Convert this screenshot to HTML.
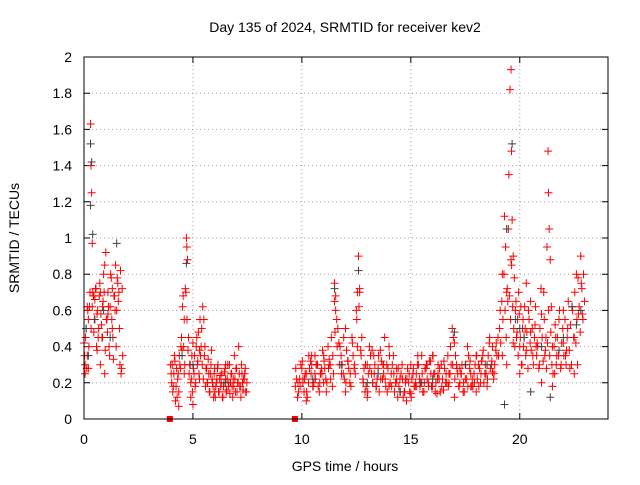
<!DOCTYPE html>
<html><head><meta charset="utf-8"><style>
body{margin:0;background:#fff;}
svg text{font-family:"Liberation Sans",sans-serif;font-size:14px;fill:#000;}
</style></head><body>
<svg id="chart" width="640" height="480" viewBox="0 0 640 480" xmlns="http://www.w3.org/2000/svg">
<rect width="640" height="480" fill="#fff"/>
<text x="345" y="32" text-anchor="middle">Day 135 of 2024, SRMTID for receiver kev2</text>
<text transform="translate(19,238) rotate(-90)" text-anchor="middle">SRMTID / TECUs</text>
<text x="345" y="471" text-anchor="middle">GPS time / hours</text>
<g id="grid"></g>
<g id="ticks"></g>
<g id="red"></g>
<g id="black"></g>
<rect x="84" y="57" width="524" height="362" fill="none" stroke="#000" stroke-width="1"/>
</svg>
<script>
const xTicks=[0,5,10,15,20];
const yTicks=[0,0.2,0.4,0.6,0.8,1,1.2,1.4,1.6,1.8,2];
const yTickLabels=["0","0.2","0.4","0.6","0.8","1","1.2","1.4","1.6","1.8","2"];
const redT=[0,.05,.1,.15,.2,.25,.3,.32,.35,.38,.4,.45,.5,.55,.6,.65,.7,.75,.8,.85,.9,.95,1,1.05,1.1,1.15,1.2,1.25,1.3,1.35,1.4,1.45,1.5,1.55,1.6,1.65,1.7,1.75,.05,.15,.45,.6,.75,.85,1.1,1.3,.2,.95,
4,4.05,4.1,4.15,4.2,4.25,4.3,4.35,4.4,4.45,4.5,4.55,4.6,4.65,4.7,4.72,4.75,4.8,4.85,4.9,4.95,5,5.05,5.1,5.15,5.2,5.25,5.3,5.35,5.4,5.45,5.5,5.55,5.6,5.65,5.7,5.75,5.8,5.85,5.9,5.95,6,6.05,6.1,6.15,6.2,6.25,6.3,6.35,6.4,6.45,6.5,6.55,6.6,6.65,6.7,6.75,6.8,6.85,6.9,6.95,7,7.05,7.1,7.15,7.2,7.25,7.3,7.35,7.4,7.45,4.6,4.9,5.3,6,6.5,5,4.35,
9.7,9.8,9.9,10,10.1,10.2,10.3,10.4,10.5,10.6,10.7,10.8,10.9,11,11.1,11.2,11.3,11.4,11.5,11.55,11.6,11.7,11.8,11.9,12,12.1,12.2,12.3,12.4,12.5,12.6,12.65,12.7,12.8,12.9,13,13.1,13.2,13.3,13.4,13.5,13.6,13.7,13.8,13.9,14,14.1,14.2,14.3,14.4,14.5,14.6,14.7,14.8,14.9,15,15.1,15.2,15.3,15.4,15.5,15.6,15.7,15.8,15.9,16,16.1,16.2,16.3,16.4,16.5,16.6,16.7,16.8,16.9,17,17.1,17.2,17.3,17.4,17.5,17.6,17.7,17.8,17.9,18,18.1,18.2,18.3,18.4,18.5,18.6,18.7,18.8,18.9,10.2,10.6,11,12,13,14,15,16,17,18,11.5,12.55,10.05,10.45,10.85,11.25,13.25,13.75,14.35,14.75,15.25,15.75,16.25,16.75,17.25,17.75,18.25,18.75,
19,19.1,19.2,19.3,19.35,19.4,19.45,19.5,19.55,19.6,19.62,19.65,19.7,19.75,19.8,19.85,19.9,19.95,20,20.05,20.1,20.15,20.2,20.3,20.4,20.5,20.6,20.7,20.8,20.9,21,21.1,21.2,21.25,21.3,21.32,21.35,21.4,21.45,21.5,21.6,21.7,21.8,21.9,22,22.1,22.2,22.3,22.4,22.5,22.6,22.7,22.8,22.85,22.9,19.2,19.4,19.7,20,20.5,21,21.5,22,22.5,19.6,20.3,20.25,20.75,21.15,21.65,22.15,22.65];
const redV=[.42,.3,.5,.35,.55,.62,1.63,1.4,1.25,.97,.7,.48,.66,.72,.58,.45,.68,.3,.52,.62,.8,.85,.92,.55,.7,.4,.62,.78,.5,.33,.68,.85,.6,.75,.7,.3,.25,.72,.25,.62,.68,.38,.7,.45,.58,.72,.28,.25,
.25,.3,.18,.35,.1,.28,.22,.15,.3,.4,.38,.68,.55,.72,1,.95,.88,.45,.3,.2,.35,.42,.25,.18,.4,.3,.48,.22,.35,.5,.62,.55,.4,.28,.2,.33,.15,.25,.38,.2,.12,.28,.18,.22,.3,.15,.24,.2,.12,.18,.26,.22,.16,.3,.2,.14,.25,.18,.22,.35,.15,.28,.2,.4,.18,.12,.25,.16,.22,.28,.15,.25,.12,.38,.15,.3,.08,.07,
.18,.12,.22,.28,.15,.25,.2,.32,.18,.25,.3,.15,.28,.35,.22,.4,.3,.18,.75,.68,.55,.42,.35,.25,.5,.32,.2,.45,.28,.6,.9,.72,.38,.22,.15,.3,.4,.25,.35,.18,.28,.38,.22,.45,.3,.18,.25,.35,.2,.12,.22,.3,.15,.1,.2,.14,.25,.18,.3,.22,.35,.15,.28,.2,.32,.18,.25,.14,.22,.3,.16,.2,.35,.25,.5,.42,.3,.18,.25,.15,.22,.4,.28,.18,.25,.15,.3,.2,.35,.25,.18,.42,.3,.22,.38,.1,.35,.2,.15,.12,.4,.3,.35,.12,.35,.65,.7,.22,.3,.25,.3,.2,.3,.28,.22,.18,.3,.25,.2,.28,.18,.32,.26,
.45,.6,.8,1.12,.95,.7,.65,1.35,1.82,1.93,1.48,1.1,.9,.78,.6,.45,.55,.7,.4,.62,.3,.55,.45,.38,.6,.48,.35,.52,.42,.3,.58,.7,.45,.95,1.48,1.25,1.05,.88,.62,.4,.25,.35,.55,.3,.42,.35,.5,.28,.62,.45,.8,.58,.9,.72,.55,.35,.3,.42,.25,.65,.2,.18,.6,.25,.88,.75,.5,.4,.35,.45,.38,.3];
const seg1T=[.025,.075,.125,.175,.225,.275,.325,.375,.425,.475,.525,.575,.625,.675,.725,.775,.825,.875,.925,.975,1.025,1.075,1.125,1.175,1.225,1.275,1.325,1.375,1.425,1.475,1.525,1.575,1.625,1.675,1.725,1.775];
const seg1V=[.35,.45,.28,.60,.40,.70,.50,.62,.68,.55,.72,.40,.60,.50,.75,.58,.45,.65,.70,.38,.55,.48,.62,.35,.80,.55,.45,.68,.60,.40,.78,.65,.50,.82,.28,.35];
const seg2T=[3.975,4.025,4.075,4.125,4.175,4.225,4.275,4.325,4.375,4.425,
4.475,4.525,4.575,4.625,4.675,4.725,4.775,4.825,4.875,4.925,
4.975,5.025,5.075,5.125,5.175,5.225,5.275,5.325,5.375,5.425,
5.475,5.525,5.575,5.625,5.675,5.725,5.775,5.825,5.875,5.925,
5.975,6.025,6.075,6.125,6.175,6.225,6.275,6.325,6.375,6.425,
6.475,6.525,6.575,6.625,6.675,6.725,6.775,6.825,6.875,6.925,
6.975,7.025,7.075,7.125,7.175,7.225,7.275,7.325,7.375,7.425,7.475];
const seg2V=[.30,.20,.15,.25,.32,.18,.12,.25,.35,.28,
.45,.62,.40,.30,.70,.55,.38,.25,.30,.22,
.15,.28,.35,.20,.45,.32,.25,.55,.40,.30,
.22,.35,.18,.28,.20,.25,.15,.30,.22,.18,
.25,.12,.20,.28,.15,.22,.18,.25,.12,.20,
.28,.15,.22,.18,.30,.20,.25,.12,.18,.22,
.28,.15,.20,.25,.18,.30,.20,.22,.25,.15,.20];
const seg3T=[9.75,9.85,9.95,10.05,10.15,10.25,10.35,10.45,10.55,10.65,
10.75,10.85,10.95,11.05,11.15,11.25,11.35,11.45,11.55,11.65,
11.75,11.85,11.95,12.05,12.15,12.25,12.35,12.45,12.55,12.65,
12.75,12.85,12.95,13.05,13.15,13.25,13.35,13.45,13.55,13.65,
13.75,13.85,13.95,14.05,14.15,14.25,14.35,14.45,14.55,14.65,
14.75,14.85,14.95,15.05,15.15,15.25,15.35,15.45,15.55,15.65,
15.75,15.85,15.95,16.05,16.15,16.25,16.35,16.45,16.55,16.65,
16.75,16.85,16.95,17.05,17.15,17.25,17.35,17.45,17.55,17.65,
17.75,17.85,17.95,18.05,18.15,18.25,18.35,18.45,18.55,18.65,
18.75,18.85,18.95];
const seg3V=[.22,.15,.30,.20,.25,.12,.28,.35,.20,.30,
.18,.25,.38,.28,.20,.33,.45,.25,.60,.50,
.40,.30,.22,.38,.28,.18,.35,.25,.40,.70,
.45,.28,.18,.25,.35,.20,.30,.22,.15,.32,
.25,.18,.28,.20,.30,.15,.22,.18,.25,.12,
.20,.28,.15,.22,.18,.25,.30,.20,.15,.28,
.22,.32,.18,.25,.20,.30,.15,.22,.28,.20,
.25,.30,.45,.35,.25,.20,.30,.15,.22,.35,
.25,.18,.30,.22,.28,.32,.20,.25,.35,.28,
.40,.30,.35];
const seg3bT=[9.72,9.82,9.92,10.02,10.12,10.22,10.32,10.42,10.52,10.62,
10.72,10.82,10.92,11.02,11.12,11.22,11.32,11.42,11.52,11.62,
11.72,11.82,11.92,12.02,12.12,12.22,12.32,12.42,12.52,12.62,
12.72,12.82,12.92,13.02,13.12,13.22,13.32,13.42,13.52,13.62,
13.72,13.82,13.92,14.02,14.12,14.22,14.32,14.42,14.52,14.62,
14.72,14.82,14.92,15.02,15.12,15.22,15.32,15.42,15.52,15.62,
15.72,15.82,15.92,16.02,16.12,16.22,16.32,16.42,16.52,16.62,
16.72,16.82,16.92,17.02,17.12,17.22,17.32,17.42,17.52,17.62,
17.72,17.82,17.92,18.02,18.12,18.22,18.32,18.42,18.52,18.62,
18.72,18.82,18.92];
const seg3bV=[.28,.20,.18,.32,.22,.15,.35,.25,.18,.22,
.30,.20,.25,.32,.15,.28,.22,.35,.48,.40,
.30,.25,.45,.20,.32,.25,.42,.30,.55,.62,
.35,.20,.30,.15,.28,.38,.25,.18,.35,.22,
.30,.22,.15,.35,.18,.25,.20,.28,.15,.22,
.15,.22,.25,.12,.28,.20,.35,.18,.25,.20,
.30,.18,.25,.35,.15,.22,.28,.18,.32,.25,
.18,.40,.30,.22,.28,.18,.25,.20,.30,.18,
.32,.22,.20,.35,.18,.25,.38,.30,.22,.45,
.32,.25,.42];
const seg4T=[19.025,19.075,19.125,19.175,19.225,19.275,19.325,19.375,19.425,19.475,
19.525,19.575,19.625,19.675,19.725,19.775,19.825,19.875,19.925,19.975,
20.025,20.075,20.125,20.175,20.225,20.275,20.325,20.375,20.425,20.475,
20.525,20.575,20.625,20.675,20.725,20.775,20.825,20.875,20.925,20.975,
21.025,21.075,21.125,21.175,21.225,21.275,21.325,21.375,21.425,21.475,
21.525,21.575,21.625,21.675,21.725,21.775,21.825,21.875,21.925,21.975,
22.025,22.075,22.125,22.175,22.225,22.275,22.325,22.375,22.425,22.475,
22.525,22.575,22.625,22.675,22.725,22.775,22.825,22.875,22.925,22.975];
const seg4V=[.35,.50,.42,.65,.55,.80,.60,.45,.72,1.05,
.68,.55,.85,.62,.50,.40,.65,.48,.35,.58,
.45,.30,.50,.40,.62,.35,.48,.28,.55,.42,
.38,.50,.30,.45,.62,.35,.40,.28,.50,.72,
.45,.32,.55,.38,.28,.42,.60,.35,.48,.30,
.25,.40,.52,.30,.45,.35,.60,.28,.42,.50,
.35,.55,.30,.45,.65,.38,.52,.30,.60,.45,
.70,.42,.55,.78,.62,.48,.75,.58,.80,.65];
const blackT=[.3,.35,.3,.4,1.5,4.7,12.6,11.5,19.4,19.65,19.3,20.5,21.4,22.4,.2,5,13,16,17,20,22,.5,1.2,4.5,6.5,10.5,14.5,18.5,21,22.8,19.8,20.2,21.8,22.6,0.1,0.9,11.8,13.5,15.5,17.5];
const blackV=[1.52,1.42,1.18,1.02,.97,.86,.82,.72,1.05,1.52,.08,.15,.12,.62,.35,.3,.2,.22,.48,.5,.45,.55,.45,.35,.2,.22,.15,.3,.4,.6,.55,.45,.38,.52,.5,.6,.3,.25,.2,.3];
const zeroT=[3.94,9.68];
const zeroV=[0,0];

const X0=84,X1=608,Y0=419,Y1=57,XMAX=24.05,YMAX=2;
const xs=t=>X0+t/XMAX*(X1-X0);
const ys=v=>Y0-v/YMAX*(Y0-Y1);
const NS="http://www.w3.org/2000/svg";
function mk(tag,parent){const e=document.createElementNS(NS,tag);document.getElementById(parent).appendChild(e);return e;}

xTicks.forEach(t=>{
  const x=xs(t);
  if(t>0){const g=mk('line','grid');
  
  
  g.setAttribute('x1',x);g.setAttribute('x2',x);g.setAttribute('y1',Y1);g.setAttribute('y2',Y0);
  g.setAttribute('stroke','#a0a0a0');g.setAttribute('stroke-dasharray','1,3');}
  const tk=mk('path','ticks');
  
  
  tk.setAttribute('d',`M${x},${Y0}v-6M${x},${Y1}v6`);tk.setAttribute('stroke','#000');
  const lb=mk('text','ticks');
  
  
  lb.setAttribute('x',x);lb.setAttribute('y',444);lb.setAttribute('text-anchor','middle');lb.textContent=t;
});
yTicks.forEach((v,i)=>{
  const y=ys(v);
  if(v>0){const g=mk('line','grid');
  
  
  g.setAttribute('x1',X0);g.setAttribute('x2',X1);g.setAttribute('y1',y);g.setAttribute('y2',y);
  g.setAttribute('stroke','#a0a0a0');g.setAttribute('stroke-dasharray','1,3');}
  const tk=mk('path','ticks');
  
  
  tk.setAttribute('d',`M${X0},${y}h6M${X1},${y}h-6`);tk.setAttribute('stroke','#000');
  const lb=mk('text','ticks');
  
  
  lb.setAttribute('x',72);lb.setAttribute('y',y+5);lb.setAttribute('text-anchor','end');lb.textContent=yTickLabels[i];
});
function cross(parent,t,v,col){
  const x=xs(t),y=ys(v);
  const p=mk('path',parent);
  
  
  p.setAttribute('d',`M${x-4},${y}h8M${x},${y-4}v8`);
  p.setAttribute('stroke',col);p.setAttribute('stroke-width','1');
}
blackT.forEach((t,i)=>cross('black',t,blackV[i],'#404040'));
redT.forEach((t,i)=>cross('red',t,redV[i],'#ff0000'));
seg1T.forEach((t,i)=>cross('red',t,seg1V[i],'#ff0000'));
seg2T.forEach((t,i)=>cross('red',t,seg2V[i],'#ff0000'));
seg3T.forEach((t,i)=>cross('red',t,seg3V[i],'#ff0000'));
seg3bT.forEach((t,i)=>cross('red',t,seg3bV[i],'#ff0000'));
seg4T.forEach((t,i)=>cross('red',t,seg4V[i],'#ff0000'));
zeroT.forEach((t,i)=>{
  const r=mk('rect','red');
  
  
  r.setAttribute('x',xs(t)-3);r.setAttribute('y',ys(zeroV[i])-3);r.setAttribute('width',6);r.setAttribute('height',6);r.setAttribute('fill','#ff0000');
});
</script>
</body></html>
